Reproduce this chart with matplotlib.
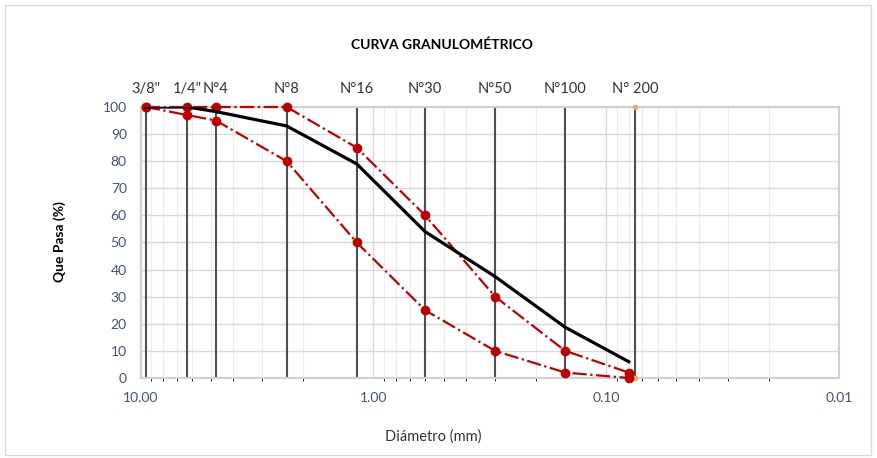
import numpy as np
import matplotlib.pyplot as plt
from matplotlib.patches import Rectangle
from matplotlib.ticker import FixedLocator, NullFormatter

plt.rcParams['font.family'] = ['Lato', 'DejaVu Sans']

# sieve openings (mm) and names
sieve_names = ['3/8"', '1/4"', 'N°4', 'N°8', 'N°16', 'N°30', 'N°50', 'N°100', 'N° 200']
sieve_mm = [9.5, 6.3, 4.75, 2.36, 1.18, 0.6, 0.3, 0.15, 0.075]

# curve points
diam = [9.5, 6.3, 4.75, 2.36, 1.18, 0.6, 0.3, 0.15, 0.08]
sample = [100, 100, 98.3, 93, 79, 54, 37.4, 18.7, 6]
upper = [100, 100, 100, 100, 85, 60, 30, 10, 2]
lower = [100, 97, 95, 80, 50, 25, 10, 2, 0]

fig = plt.figure(figsize=(8.77, 4.58), dpi=100)
fig.patches.append(Rectangle((5 / 877, 3 / 458), 866 / 877, 450 / 458,
                             transform=fig.transFigure, fill=False,
                             edgecolor='#d9d9d9', lw=1))
ax = fig.add_axes([0.1604, 0.1747, 0.7963, 0.5917])

ax.set_xscale('log')
ax.set_xlim(10, 0.01)
ax.set_ylim(0, 100)

# gridlines
ax.set_yticks(np.arange(0, 101, 10))
ax.xaxis.set_major_locator(FixedLocator([10, 1, 0.1, 0.01]))
minor = [m * d for d in [0.01, 0.1, 1] for m in range(2, 10)]
ax.xaxis.set_minor_locator(FixedLocator(minor))
ax.xaxis.set_minor_formatter(NullFormatter())
ax.set_xticklabels(['10.00', '1.00', '0.10', '0.01'])
ax.grid(True, which='major', color='#d9d9d9', lw=1)
ax.grid(True, which='minor', axis='x', color='#ececec', lw=0.8)
ax.set_axisbelow(True)
for s in ax.spines.values():
    s.set_color('#d0d0d0')
    s.set_linewidth(1.5)
ax.tick_params(length=0, labelsize=10, labelcolor='#44546a')
ax.tick_params(axis='x', pad=10)
ax.tick_params(axis='y', pad=10)

# sieve vertical lines and labels
for name, d in zip(sieve_names, sieve_mm):
    ax.plot([d, d], [0, 100], color='#505050', lw=1.5, zorder=2)
    ax.text(d, 104, name, ha='center', va='bottom', fontsize=10.5,
            color='#333333')
ax.plot([sieve_mm[-1], sieve_mm[-1]], [0, 100], ls='none', marker='o',
        ms=3, color='#f4a460', zorder=3, clip_on=False)

ax.plot(diam, upper, color='#c00000', ls='-.', lw=1.6, marker='o', ms=6,
        zorder=4, clip_on=False)
ax.plot(diam, lower, color='#c00000', ls='-.', lw=1.6, marker='o', ms=6,
        zorder=4, clip_on=False)
ax.plot(diam, sample, color='black', lw=2.3, zorder=5)

fig.text(442 / 877, 1 - 45 / 458, 'CURVA GRANULOMÉTRICO', ha='center',
         va='center', fontsize=10, fontweight='bold')
fig.text(60 / 877, 1 - 242 / 458, 'Que Pasa (%)', ha='center', va='center',
         rotation=90, fontsize=10, fontweight='bold')
fig.text(433 / 877, 1 - 437 / 458, 'Diámetro (mm)', ha='center',
         va='center', fontsize=10.5, color='#333333')

fig.savefig('out.png', dpi=100)
